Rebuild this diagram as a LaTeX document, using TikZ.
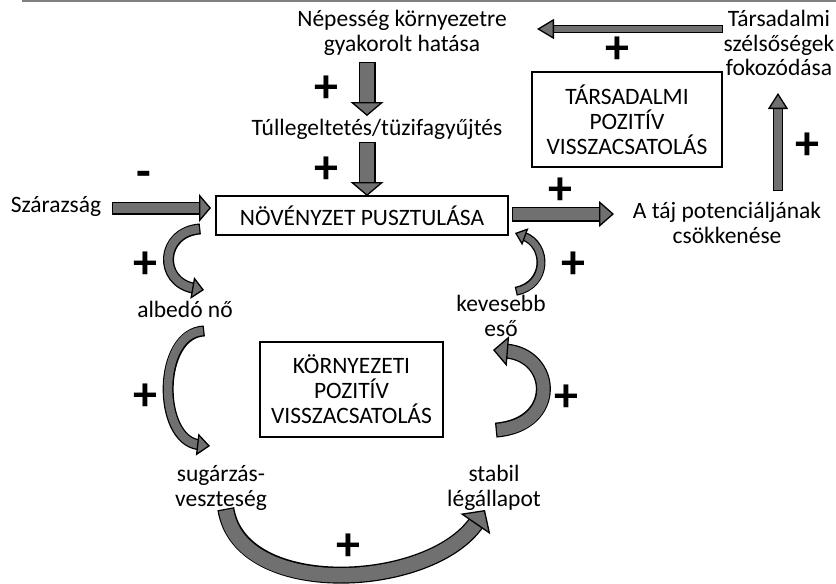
\documentclass[tikz,border=0pt]{standalone}
\usepackage{fontspec}
\setmainfont{Carlito}
\usetikzlibrary{arrows.meta}
\definecolor{agray}{RGB}{112,112,112}
\definecolor{lgray}{RGB}{128,128,128}
\tikzset{
  lbl/.style={inner sep=0pt, align=center, font=\fontsize{23.5}{24.5}\selectfont},
  boxed/.style={draw=black, line width=1.8pt, inner sep=0pt, align=center, font=\fontsize{23.5}{25}\selectfont},
  sgn/.style={inner sep=0pt, font=\fontsize{48}{48}\selectfont\bfseries},
  barrow/.style n args={5}{draw=agray, line width=0.8pt,
     -{Triangle[length=#4, width=#3, color=black, fill=agray, line width=1.3pt]},
     preaction={draw=black, line width=#1, arrows=-, shorten >=#5, shorten <=-1.3pt},
     preaction={draw=agray, line width=#2, arrows=-, shorten >=#5}}
}
\begin{document}
\begin{tikzpicture}[x=1pt, y=-1pt]
\useasboundingbox (0,0) rectangle (836,584);
\coordinate (tl) at (22,1);
\coordinate (tr) at (836,1);
\draw[lgray, line width=2pt] (tl) -- (tr);

% nodes
\node[lbl] (nep) at (402,33) {Népesség környezetre\\gyakorolt hatása};
\node[lbl] (tul) at (377,129) {Túllegeltetés/tüzifagyűjtés};
\node[boxed, minimum width=292pt, minimum height=39pt] (nov) at (362,215.5) {NÖVÉNYZET PUSZTULÁSA};
\node[lbl] (szar) at (56,206) {Szárazság};
\node[lbl] (taj) at (727,223) {A táj potenciáljának\\csökkenése};
\node[lbl] (tars) at (779,43) {Társadalmi\\szélsőségek\\fokozódása};
\node[boxed, minimum width=190pt, minimum height=95pt] (tpv) at (627,119.5) {TÁRSADALMI\\POZITÍV\\VISSZACSATOLÁS};
\node[boxed, minimum width=183pt, minimum height=95pt] (kpv) at (351.5,389.5) {KÖRNYEZETI\\POZITÍV\\VISSZACSATOLÁS};
\node[lbl] (alb) at (185,309) {albedó nő};
\node[lbl] (kev) at (501,316) {kevesebb\\eső};
\node[lbl] (sug) at (221,488) {sugárzás-\\veszteség};
\node[lbl] (stab) at (494,488) {stabil\\légállapot};

% signs
\node[sgn] (s1) at (326,89) {+};
\node[sgn] (s2) at (326,170) {+};
\node[sgn] (m1) at (144,179) {-};
\node[sgn] (s3) at (560,191) {+};
\node[sgn] (s4) at (617,50) {+};
\node[sgn] (s5) at (807,146) {+};
\node[sgn] (s6) at (145,265) {+};
\node[sgn] (s7) at (573,265) {+};
\node[sgn] (s8) at (145,397) {+};
\node[sgn] (s9) at (566,398) {+};
\node[sgn] (s10) at (348,547) {+};

% connector end points
\coordinate (nepo) at (367,63);
\coordinate (tuli) at (367,116);
\coordinate (tulo) at (367,143);
\coordinate (novt) at (367,196);
\coordinate (szaro) at (113,208);
\coordinate (novl) at (211,208);
\coordinate (novr) at (513,214);
\coordinate (taji) at (614,214);
\coordinate (tajo) at (778,190);
\coordinate (tarsi) at (778,93);
\coordinate (tarso) at (722,29);
\coordinate (nepi) at (537,29);
\coordinate (novbl) at (199,229);
\coordinate (albi) at (204,290);
\coordinate (kevo) at (517,291);
\coordinate (novbr) at (515,233);
\coordinate (albo) at (203,331);
\coordinate (sugi) at (210,446);
\coordinate (stabo) at (497,430);
\coordinate (kevi) at (493,350);
\coordinate (sugo) at (226,510);
\coordinate (stabi) at (485,510);

% straight arrows
\draw[barrow={17pt}{14.4pt}{33pt}{14pt}{12pt}] (nepo) -- (tuli);
\draw[barrow={17pt}{14.4pt}{33pt}{14pt}{12pt}] (tulo) -- (novt);
\draw[barrow={13pt}{10.4pt}{28pt}{12pt}{10pt}] (szaro) -- (novl);
\draw[barrow={15pt}{12.4pt}{26pt}{15pt}{13pt}] (novr) -- (taji);
\draw[barrow={10pt}{7.4pt}{20pt}{16pt}{14pt}] (tajo) -- (tarsi);
\draw[barrow={8pt}{5.4pt}{20pt}{17pt}{15pt}] (tarso) -- (nepi);

% curved arrows
\draw[barrow={11pt}{8.4pt}{22pt}{12pt}{10pt}] (novbl) .. controls (160,232) and (158,282) .. (albi);
\draw[barrow={9pt}{6.4pt}{18pt}{11pt}{9pt}] (kevo) .. controls (548,285) and (548,245) .. (novbr);
\draw[barrow={11pt}{8.4pt}{22pt}{13pt}{11pt}] (albo) .. controls (157,333) and (157,440) .. (sugi);
\draw[barrow={15pt}{12.4pt}{30pt}{15pt}{13pt}] (stabo) .. controls (560,425) and (555,355) .. (kevi);
\draw[barrow={17pt}{14.4pt}{36pt}{17pt}{15pt}] (sugo) .. controls (240,600) and (430,590) .. (stabi);
\end{tikzpicture}
\end{document}
